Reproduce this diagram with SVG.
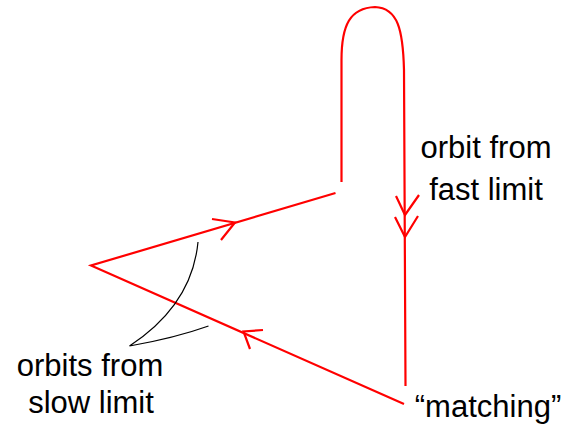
<svg xmlns="http://www.w3.org/2000/svg" width="565" height="427" viewBox="0 0 565 427">
<style>
.orbit{fill:none;stroke:#ff0000;stroke-width:2.2;stroke-linecap:butt;stroke-linejoin:miter}
.lead{fill:none;stroke:#000;stroke-width:1.2}
text{font-family:"Liberation Sans",Arial,sans-serif;font-size:31px;fill:#000;text-anchor:middle}
</style>
<rect width="565" height="427" fill="#fff"/>
<g id="connectors">
<path class="orbit" d="M341.5,182 L341.5,60 C341.5,25 350,8 375,7 C398,8 403,30 404,70 L405.5,386"/>
<path class="orbit" d="M396,196 L405,215 L419,195"/>
<path class="orbit" d="M395,217 L405,237 L418,216"/>
<path class="orbit" d="M335.5,193 L91,265.5 L404,404"/>
<path class="orbit" d="M212,219 L235,222.5 L221,240"/>
<path class="orbit" d="M263,330 L243.5,331.5 L250,349"/>
<path class="lead" d="M198,242 Q192,305 129.5,346 Q175,338 208.5,326"/>
</g>
<g id="label-fast"><text x="486" y="158">orbit from</text><text x="486" y="200">fast limit</text></g>
<g id="label-slow"><text x="90" y="376">orbits from</text><text x="91" y="413">slow limit</text></g>
<g id="label-matching"><text x="488" y="417">“matching”</text></g>
</svg>
